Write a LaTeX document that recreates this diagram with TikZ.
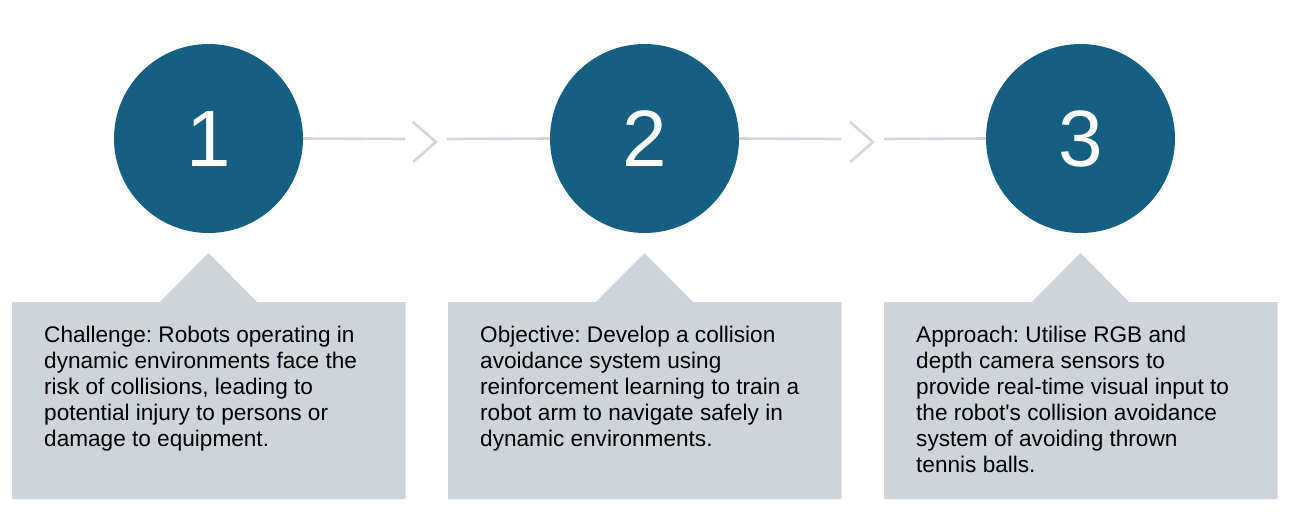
\documentclass[tikz,border=0pt]{standalone}
\usepackage{fontspec}
\setmainfont{Liberation Sans}
\definecolor{teal}{HTML}{156082}
\definecolor{boxgray}{HTML}{CFD4DA}
\definecolor{linegray}{HTML}{D2D5DA}
\begin{document}
\begin{tikzpicture}[x=1pt,y=-1pt,
  stepcircle/.style={circle,fill=teal,draw=none,minimum size=189pt,inner sep=0pt,text=white,font=\fontsize{80}{80}\selectfont},
  conn/.style={draw=linegray,line width=2.6pt},
  chev/.style={draw=linegray,line width=2.6pt,line join=miter},
  panel/.style={fill=boxgray,draw=none},
  paneltext/.style={anchor=north west,inner sep=0pt,align=left,font=\fontsize{22.6}{26}\selectfont\frenchspacing,text=black}]
\useasboundingbox (0,0) rectangle (1290,517);
% circles
\node[stepcircle] (c1) at (208.5,138.5) {1};
\node[stepcircle] (c2) at (644.5,138.5) {2};
\node[stepcircle] (c3) at (1080.5,138.5) {3};
% connectors
\coordinate (a1) at (405,139);
\coordinate (b1) at (447,139);
\coordinate (a2) at (841,139);
\coordinate (b2) at (884,139);
\draw[conn] (c1.east) -- (a1);
\draw[conn] (b1) -- (c2.west);
\draw[conn] (c2.east) -- (a2);
\draw[conn] (b2) -- (c3.west);
\coordinate (k1t) at (413,122); \coordinate (k1m) at (436,142); \coordinate (k1b) at (413,162);
\coordinate (k2t) at (850,122); \coordinate (k2m) at (873,142); \coordinate (k2b) at (850,162);
\draw[chev] (k1t) -- (k1m) -- (k1b);
\draw[chev] (k2t) -- (k2m) -- (k2b);
% panels
\foreach \i/\x in {1/12,2/448,3/884}{
  \path[panel] (\x,302) -- (\x+148,302) -- (\x+196.5,253) -- (\x+245,302) -- (\x+393.5,302) -- (\x+393.5,499) -- (\x,499) -- cycle;
}
\node[paneltext] (t1) at (44,326) {Challenge: Robots operating in\\dynamic environments face the\\risk of collisions, leading to\\potential injury to persons or\\damage to equipment.};
\node[paneltext] (t2) at (480,326) {Objective: Develop a collision\\avoidance system using\\reinforcement learning to train a\\robot arm to navigate safely in\\dynamic environments.};
\node[paneltext] (t3) at (916,326) {Approach: Utilise RGB and\\depth camera sensors to\\provide real-time visual input to\\the robot\textquotesingle s collision avoidance\\system of avoiding thrown\\tennis balls.};
\end{tikzpicture}
\end{document}
